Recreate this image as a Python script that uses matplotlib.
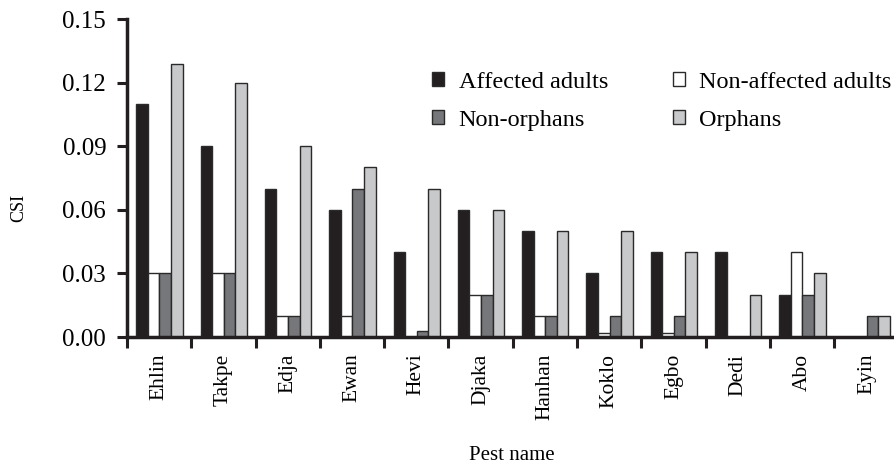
import matplotlib
matplotlib.use("Agg")
import matplotlib.pyplot as plt
import numpy as np

plt.rcParams['font.family'] = ['Liberation Serif', 'DejaVu Serif']

pests = ["Ehlin", "Takpe", "Edja", "Ewan", "Hevi", "Djaka",
         "Hanhan", "Koklo", "Egbo", "Dedi", "Abo", "Eyin"]
affected_adults = [0.11, 0.09, 0.07, 0.06, 0.04, 0.06, 0.05, 0.03, 0.04, 0.04, 0.02, 0.0]
non_affected_adults = [0.03, 0.03, 0.01, 0.01, 0.0, 0.02, 0.01, 0.002, 0.002, 0.0, 0.04, 0.0]
non_orphans = [0.03, 0.03, 0.01, 0.07, 0.003, 0.02, 0.01, 0.01, 0.01, 0.0, 0.02, 0.01]
orphans = [0.129, 0.12, 0.09, 0.08, 0.07, 0.06, 0.05, 0.05, 0.04, 0.02, 0.03, 0.01]

series = [
    ("Affected adults", affected_adults, "#231f20"),
    ("Non-affected adults", non_affected_adults, "#ffffff"),
    ("Non-orphans", non_orphans, "#76777a"),
    ("Orphans", orphans, "#c8c9cb"),
]

fig = plt.figure(figsize=(8.95, 4.68), dpi=100)
ax = fig.add_axes([127 / 895, 131 / 468, 771.6 / 895, 318 / 468])

n = len(pests)
x0 = np.arange(n)
bw = 0.18
start = 0.145
handles = []
for k, (name, vals, col) in enumerate(series):
    b = ax.bar(x0 + start + k * bw, vals, width=bw, align='edge',
               color=col, edgecolor='#2a2a2a', linewidth=1.0, label=name)
    handles.append(b)

ax.set_xlim(0, n)
ax.set_ylim(0, 0.15)
ax.set_yticks([0.0, 0.03, 0.06, 0.09, 0.12, 0.15])
ax.set_yticklabels(["0.00", "0.03", "0.06", "0.09", "0.12", "0.15"], fontsize=18)

# group boundaries carry the tick marks, names sit at the group centres
ax.set_xticks(np.arange(n + 1))
ax.set_xticklabels([])
ax.set_xticks(x0 + 0.5, minor=True)
ax.set_xticklabels(pests, minor=True, rotation=90, fontsize=15.5, va='top', ha='center')
ax.tick_params(axis='x', which='minor', length=0, pad=12)
ax.tick_params(axis='x', which='major', direction='out', length=8, width=2.2, color='#231f20')
ax.tick_params(axis='y', direction='out', length=7, width=2.2, color='#231f20', pad=8)

for s in ['top', 'right']:
    ax.spines[s].set_visible(False)
for s in ['left', 'bottom']:
    ax.spines[s].set_linewidth(2.5)
    ax.spines[s].set_color('#231f20')

fig.text(19 / 895, 1 - 208 / 468, "CSI", rotation=90, ha='center', va='center', fontsize=13)
fig.text(512 / 895, 1 - 455 / 468, "Pest name", ha='center', va='center', fontsize=15)

# row-wise legend order: two columns filled column by column
order = [0, 2, 1, 3]
ax.legend(handles=[handles[i] for i in order], ncol=2, frameon=False, fontsize=17.5,
          loc='upper left', bbox_to_anchor=(305 / 771.6, 1 - 53 / 318),
          handlelength=0.5, handleheight=0.5, handletextpad=0.6,
          columnspacing=2.65, labelspacing=0.7, borderaxespad=0, borderpad=0)

fig.savefig("out.png", dpi=100)
